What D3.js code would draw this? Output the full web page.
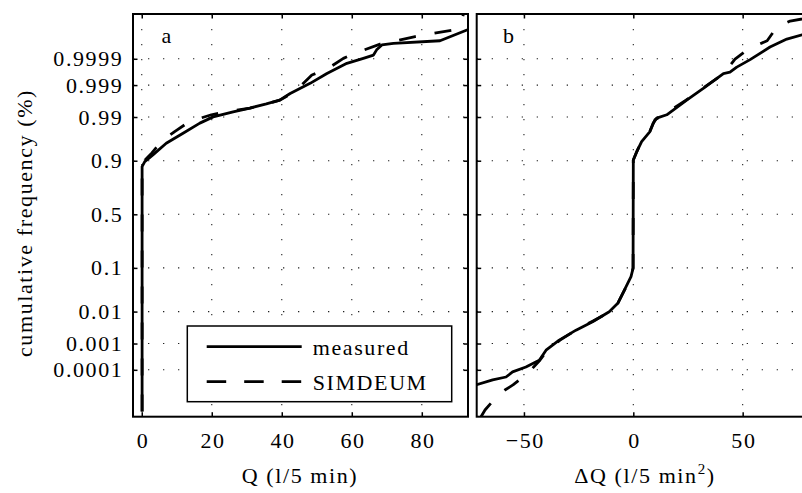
<!DOCTYPE html>
<html><head><meta charset="utf-8">
<script src="https://cdn.jsdelivr.net/npm/d3@7"></script>
</head>
<body style="margin:0;padding:0;background:#fff;">
<svg id="chart" width="802" height="493" style="display:block"></svg>
<script>
// ---------- data ----------
const probTicks = [0.0001, 0.001, 0.01, 0.1, 0.5, 0.9, 0.99, 0.999, 0.9999];
const probTickLabels = ["0.0001", "0.001", "0.01", "0.1", "0.5", "0.9", "0.99", "0.999", "0.9999"];
const qTicks = [0, 20, 40, 60, 80];
const dqTicks = [-50, 0, 50];
const seriesNames = ["measured", "SIMDEUM"];

// panel a : Q (l/5 min) vs cumulative frequency
const qMeasured = [0.1, 0.1, 0.86, 3.2, 7.0, 11.8, 16.6, 20.4, 26.1, 30.9, 35.6, 39.4, 42.4, 48.1, 52.9, 58.6, 63.3, 66.2, 67.1, 68.6, 71.9, 85.2, 92.9, 95.5];
const pMeasuredA = [1.2e-6, 0.8729, 0.8962, 0.9222, 0.9554, 0.9738, 0.9854, 0.9901, 0.99286, 0.99446, 0.99585, 0.99683, 0.99807, 0.99913, 0.99962, 0.999847, 0.999904, 0.99993, 0.999958, 0.9999744, 0.9999784, 0.9999834, 0.9999948, 0.9999968];
const qSimdeum = [0.1, 0.1, 0.94, 2.9, 5.6, 9.4, 13.7, 19.9, 23.8, 30.9, 39.5, 43.8, 48.6, 52.9, 57.6, 61.9, 68.1, 78.1, 83.3, 89.0, 91.4, 92.1];
const pSimdeumA = [1.2e-6, 0.855, 0.9032, 0.929, 0.9591, 0.9761, 0.9868, 0.99134, 0.99286, 0.99446, 0.99683, 0.99836, 0.99957, 0.99974, 0.999904, 0.999948, 0.9999765, 0.9999893, 0.9999925, 0.9999948, 0.99999834, 0.99999935];

// panel b : dQ (l/5 min^2) vs cumulative frequency
const dqMeasured = [-72.0, -64.3, -58.2, -55.2, -49.1, -43.0, -39.9, -33.9, -26.2, -18.6, -11.0, -7.1, -3.3, -1.05, -0.1, 0, 1.6, 3.8, 7.6, 9.1, 10.7, 15.3, 24.4, 32.0, 41.2, 44.2, 47.3, 53.4, 62.5, 70.2, 77.2, 81.7];
const pMeasuredB = [2.25e-5, 3.75e-5, 5.0e-5, 8.2e-5, 1.31e-4, 2.42e-4, 5.77e-4, 1.31e-3, 2.80e-3, 5.09e-3, 9.9e-3, 0.0166, 0.0418, 0.0681, 0.0985, 0.9032, 0.9332, 0.9591, 0.9761, 0.9854, 0.98928, 0.99134, 0.99683, 0.99869, 0.99962, 0.99966, 0.999784, 0.999892, 0.9999683, 0.9999861, 0.9999911, 0.9999935];
const dqSimdeum = [-69.7, -67.8, -62.5, -58.7, -55.0, -48.2, -42.7, -39.9, -33.5, -26.2, -18.4, -11.6, -7.0, -3.3, -1.05, -0.1, 0, 1.7, 3.98, 7.6, 9.9, 14.5, 24.1, 31.9, 41.0, 46.5, 52.5, 61.2, 65.7, 71.7, 77.2, 81.7];
const pSimdeumB = [6.2e-7, 1.43e-6, 6.5e-6, 1.33e-5, 2.25e-5, 7.2e-5, 2.42e-4, 5.0e-4, 1.31e-3, 2.80e-3, 5.39e-3, 9.1e-3, 0.0170, 0.0409, 0.0668, 0.100, 0.9032, 0.9345, 0.9625, 0.9767, 0.9881, 0.9918, 0.99683, 0.99874, 0.99960, 0.999896, 0.999961, 0.9999834, 0.9999963, 0.9999981, 0.9999985, 0.9999988];

// ---------- inverse normal CDF (normal probability scale) ----------
function norminv(p){
  const a=[-3.969683028665376e+01,2.209460984245205e+02,-2.759285104469687e+02,1.383577518672690e+02,-3.066479806614716e+01,2.506628277459239e+00];
  const b=[-5.447609879822406e+01,1.615858368580409e+02,-1.556989798598866e+02,6.680131188771972e+01,-1.328068155288572e+01];
  const c=[-7.784894002430293e-03,-3.223964580411365e-01,-2.400758277161838e+00,-2.549732539343734e+00,4.374664141464968e+00,2.938163982698783e+00];
  const d=[7.784695709041462e-03,3.224671290700398e-01,2.445134137142996e+00,3.754408661907416e+00];
  const pl=0.02425, ph=1-pl; let q,r;
  if(p<pl){q=Math.sqrt(-2*Math.log(p));return (((((c[0]*q+c[1])*q+c[2])*q+c[3])*q+c[4])*q+c[5])/((((d[0]*q+d[1])*q+d[2])*q+d[3])*q+1);}
  if(p<=ph){q=p-0.5;r=q*q;return (((((a[0]*r+a[1])*r+a[2])*r+a[3])*r+a[4])*r+a[5])*q/(((((b[0]*r+b[1])*r+b[2])*r+b[3])*r+b[4])*r+1);}
  q=Math.sqrt(-2*Math.log(1-p));return -(((((c[0]*q+c[1])*q+c[2])*q+c[3])*q+c[4])*q+c[5])/((((d[0]*q+d[1])*q+d[2])*q+d[3])*q+1);
}

const FONT = "'Liberation Serif', 'Times New Roman', Times, serif";
function txt(sel){
  return sel.attr("font-family", FONT).attr("font-size", 22).attr("letter-spacing", 1.6).attr("fill", "#000")
    .style("font-family", FONT).style("font-size", "22px").style("letter-spacing", "1.6px");
}

// ---------- layout ----------
const svg = d3.select("#chart");
const yTop = 14, yBottom = 416.7;
const yZ = d3.scaleLinear().domain([-4.84, 4.79]).range([yBottom, yTop]);
const panels = [
  {id:"a", left:133, right:468, domain:[-2.5, 93.2], ticks:qTicks,
   xs:[qMeasured, qSimdeum], ps:[pMeasuredA, pSimdeumA], label:"a", labelX:161.5, xTitleX:300},
  {id:"b", left:476.7, right:812, domain:[-71.6, 81.7], ticks:dqTicks,
   xs:[dqMeasured, dqSimdeum], ps:[pMeasuredB, pSimdeumB], label:"b", labelX:503, xTitleX:645}
];
const zTicks = probTicks.map(norminv);

panels.forEach((P, pi) => {
  const x = d3.scaleLinear().domain(P.domain).range([P.left, P.right]);
  const g = svg.append("g");
  g.append("clipPath").attr("id","clip"+P.id).append("rect")
    .attr("x",P.left).attr("y",yTop).attr("width",P.right-P.left).attr("height",yBottom-yTop);

  // grid
  const grid = g.append("g").attr("stroke","#222").attr("stroke-width",1.1).attr("fill","none");
  grid.selectAll("line.h").data(zTicks).join("line").attr("class","h")
    .attr("x1",P.left).attr("x2",P.right).attr("y1",d=>yZ(d)).attr("y2",d=>yZ(d))
    .attr("stroke-dasharray","1.3,13.7");
  grid.selectAll("line.v").data(P.ticks).join("line").attr("class","v")
    .attr("x1",d=>x(d)).attr("x2",d=>x(d)).attr("y1",yTop).attr("y2",yBottom)
    .attr("stroke-dasharray","1.3,13.7");

  // curves
  const line = d3.line().x(d=>x(d[0])).y(d=>yZ(norminv(d[1])));
  const cg = g.append("g").attr("clip-path","url(#clip"+P.id+")");
  [0,1].forEach(si => {
    const pts = P.xs[si].map((v,i)=>[v, P.ps[si][i]]);
    cg.append("path").datum(pts).attr("d",line)
      .attr("fill","none").attr("stroke","#000").attr("stroke-width",2.8)
      .attr("stroke-linejoin","round")
      .attr("stroke-dasharray", si===1 ? "17,19" : null);
  });

  // axes
  const xAxis = d3.axisBottom(x).tickValues(P.ticks).tickSizeInner(-4.5).tickSizeOuter(0).tickPadding(0);
  const ax = g.append("g").attr("transform",`translate(0,${yBottom})`).call(xAxis);
  ax.select(".domain").remove();
  ax.selectAll("line").attr("stroke","#000").attr("stroke-width",1.5);
  txt(ax.selectAll("text")).attr("dy",null).attr("y",31.3).attr("dx","0.8");
  const xTopAxis = d3.axisTop(x).tickValues(P.ticks).tickSizeInner(-4.5).tickSizeOuter(0).tickFormat("");
  const at = g.append("g").attr("transform",`translate(0,${yTop})`).call(xTopAxis);
  at.select(".domain").remove();
  at.selectAll("line").attr("stroke","#000").attr("stroke-width",1.5);

  const yL = d3.axisLeft(yZ).tickValues(zTicks).tickSizeInner(-4.5).tickSizeOuter(0).tickPadding(9.6)
    .tickFormat((d,i)=> pi===0 ? probTickLabels[i] : "");
  const al = g.append("g").attr("transform",`translate(${P.left},0)`).call(yL);
  al.select(".domain").remove();
  al.selectAll("line").attr("stroke","#000").attr("stroke-width",1.5);
  txt(al.selectAll("text"));
  const yR = d3.axisRight(yZ).tickValues(zTicks).tickSizeInner(-4.5).tickSizeOuter(0).tickFormat("");
  const ar = g.append("g").attr("transform",`translate(${P.right},0)`).call(yR);
  ar.select(".domain").remove();
  ar.selectAll("line").attr("stroke","#000").attr("stroke-width",1.5);

  // frame
  g.append("rect").attr("x",P.left).attr("y",yTop).attr("width",P.right-P.left).attr("height",yBottom-yTop)
    .attr("fill","none").attr("stroke","#000").attr("stroke-width",2);

  // panel letter
  txt(g.append("text")).attr("x",P.labelX).attr("y",43.3).text(P.label);

  // x title
  const t = txt(g.append("text")).attr("x",P.xTitleX).attr("y",483).attr("text-anchor","middle");
  if (pi===0) t.text("Q (l/5 min)");
  else {
    t.append("tspan").text("ΔQ (l/5 min");
    t.append("tspan").style("font-size","15px").attr("dy",-9).text("2");
    t.append("tspan").attr("dy",9).text(")");
  }
});

// y title
txt(svg.append("text")).attr("transform","translate(32,223) rotate(-90)").attr("text-anchor","middle")
  .text("cumulative frequency (%)");

// legend
const leg = svg.append("g");
leg.append("rect").attr("x",187.3).attr("y",326).attr("width",264.4).attr("height",75.7)
  .attr("fill","#fff").attr("stroke","#000").attr("stroke-width",1.5);
const legY = [346.7, 381.7];
seriesNames.forEach((n,i)=>{
  leg.append("line").attr("x1",206.7).attr("x2",301.7).attr("y1",legY[i]).attr("y2",legY[i])
    .attr("stroke","#000").attr("stroke-width",2.8).attr("stroke-dasharray", i===1 ? "19.5,18" : null);
  txt(leg.append("text")).attr("x",312.7).attr("y",legY[i]+8.5).text(n);
});
</script>
</body></html>
